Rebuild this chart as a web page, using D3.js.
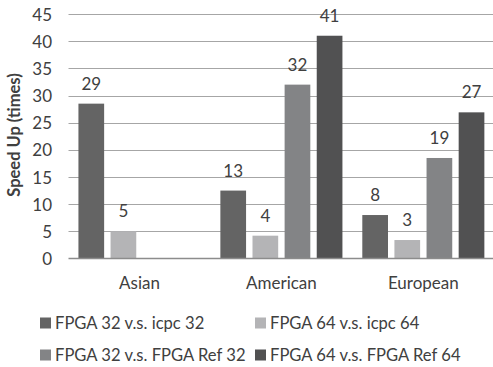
<!DOCTYPE html>
<html>
<head>
<meta charset="utf-8">
<script src="https://cdn.jsdelivr.net/npm/d3@7"></script>
<style>
  html, body { margin: 0; padding: 0; background: #ffffff; }
  svg { display: block; }
  text { font-family: Lato, "Open Sans", sans-serif; fill: #404040; }
</style>
</head>
<body>
<svg id="chart" width="493" height="367"></svg>
<script>
// Regions on the x axis
const categories = ["Asian", "American", "European"];

// Series names (legend order)
const seriesNames = [
  "FPGA 32 v.s. icpc 32",
  "FPGA 64 v.s. icpc 64",
  "FPGA 32 v.s. FPGA Ref 32",
  "FPGA 64 v.s. FPGA Ref 64"
];

// Speed-up per region for each series (null = no measurement)
const fpga32VsIcpc32 = [28.5, 12.5, 8];
const fpga64VsIcpc64 = [5, 4.2, 3.4];
const fpga32VsRef32 = [null, 32, 18.5];
const fpga64VsRef64 = [null, 41, 26.9];

const seriesValues = [fpga32VsIcpc32, fpga64VsIcpc64, fpga32VsRef32, fpga64VsRef64];
const seriesColors = ["#646464", "#b4b4b6", "#838486", "#515152"];

// Y axis ticks
const yTicks = [0, 5, 10, 15, 20, 25, 30, 35, 40, 45];

const FONT = "Lato, 'Open Sans', sans-serif";
const svg = d3.select("#chart");

const plot = { left: 68.5, right: 494.3, top: 14, bottom: 258.5 };

const x = d3.scaleBand()
  .domain(categories)
  .range([plot.left, plot.right])
  .paddingInner(0.14)
  .paddingOuter(0.07);

const xInner = d3.scaleBand()
  .domain(d3.range(seriesNames.length))
  .range([0, x.bandwidth()])
  .paddingInner(0.2)
  .paddingOuter(0);

const y = d3.scaleLinear()
  .domain([0, 45])
  .range([plot.bottom, plot.top]);

// Horizontal gridlines
svg.append("g")
  .selectAll("line")
  .data(yTicks.filter(t => t > 0))
  .join("line")
  .attr("x1", plot.left)
  .attr("x2", plot.right)
  .attr("y1", d => Math.round(y(d)) + 0.5)
  .attr("y2", d => Math.round(y(d)) + 0.5)
  .attr("stroke", "#a6a6a6")
  .attr("stroke-width", 1);

// Y tick labels
const yAxis = d3.axisLeft(y).tickValues(yTicks).tickSize(0).tickPadding(0);
const yAxisG = svg.append("g")
  .attr("transform", "translate(52,0)")
  .call(yAxis);
yAxisG.select(".domain").remove();
yAxisG.selectAll("text")
  .style("font-size", "17px")
  .style("font-family", FONT)
  .attr("fill", "#404040")
  .attr("dy", "0.36em");

// Bars
const bars = [];
seriesValues.forEach((vals, s) => {
  vals.forEach((v, c) => {
    if (v !== null) bars.push({ s, c, v });
  });
});

svg.append("g")
  .selectAll("rect")
  .data(bars)
  .join("rect")
  .attr("x", d => x(categories[d.c]) + xInner(d.s))
  .attr("width", xInner.bandwidth())
  .attr("y", d => y(d.v))
  .attr("height", d => y(0) - y(d.v))
  .attr("fill", d => seriesColors[d.s]);

// Value labels above bars
const fmt = d3.format(".0f");
svg.append("g")
  .selectAll("text")
  .data(bars)
  .join("text")
  .attr("x", d => x(categories[d.c]) + xInner(d.s) + xInner.bandwidth() / 2)
  .attr("y", d => y(d.v) - 14)
  .attr("text-anchor", "middle")
  .style("font-size", "17px")
  .text(d => fmt(d.v));

// Baseline
svg.append("line")
  .attr("x1", plot.left)
  .attr("x2", plot.right)
  .attr("y1", y(0))
  .attr("y2", y(0))
  .attr("stroke", "#8c8c8c")
  .attr("stroke-width", 1.5);

// Category labels
const xAxis = d3.axisBottom(x).tickSize(0).tickPadding(0);
const xAxisG = svg.append("g")
  .attr("transform", "translate(0,289)")
  .call(xAxis);
xAxisG.select(".domain").remove();
xAxisG.selectAll("text")
  .attr("dy", 0)
  .attr("fill", "#404040")
  .style("font-size", "17px")
  .style("font-family", FONT);

// Y axis title
svg.append("text")
  .attr("transform", "translate(20,135) rotate(-90)")
  .attr("text-anchor", "middle")
  .style("font-size", "16.5px")
  .style("font-weight", "bold")
  .text("Speed Up (times)");

// Legend, two rows of two
const legendPos = [[40, 323], [255, 323], [40, 355], [255, 355]];
const legend = svg.append("g")
  .selectAll("g")
  .data(seriesNames)
  .join("g")
  .attr("transform", (d, i) => `translate(${legendPos[i][0]},${legendPos[i][1]})`);
legend.append("rect")
  .attr("x", 0)
  .attr("y", -5.5)
  .attr("width", 11)
  .attr("height", 11)
  .attr("fill", (d, i) => seriesColors[i]);
legend.append("text")
  .attr("x", 15)
  .attr("y", 0)
  .attr("dy", "0.36em")
  .style("font-size", "16.6px")
  .text(d => d);
</script>
</body>
</html>
